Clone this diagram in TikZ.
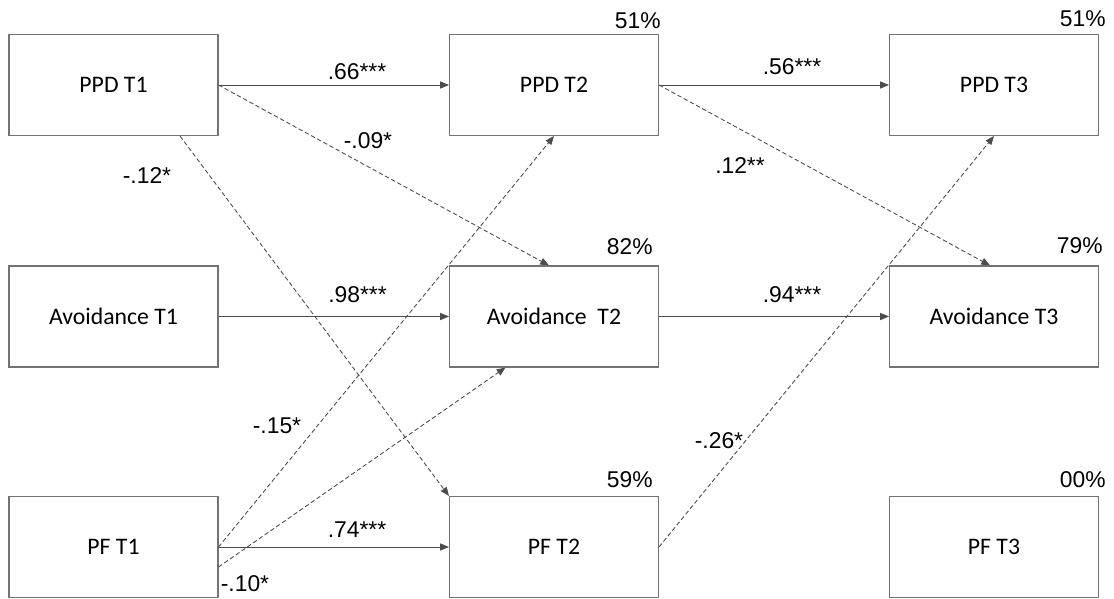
\documentclass[tikz,border=0pt]{standalone}
\usepackage{fontspec}
\setmainfont{Liberation Sans}
\newfontfamily\boxfont{Carlito}
\usetikzlibrary{arrows.meta}

\begin{document}
\begin{tikzpicture}[x=0.02cm,y=-0.02cm,
	var/.style={draw=black!55,line width=0.6pt,minimum width=4.18cm,minimum height=2.02cm,inner sep=0pt,font=\boxfont\fontsize{13.5}{16}\selectfont},
	effect/.style={draw=black!70,line width=0.5pt,-{Triangle[length=5pt,width=4pt]}},
	crosseffect/.style={effect,dash pattern=on 2.5pt off 1.5pt},
	coef/.style={anchor=base,inner sep=0pt,font=\fontsize{13}{15}\selectfont},
	rsq/.style={anchor=base east,inner sep=0pt,font=\fontsize{13}{15}\selectfont}]
				\useasboundingbox (0,0) rectangle (1114,598);
				\node[var] (ppd1) at (113.5,85) {PPD T1};
				\node[var] (ppd2) at (554,85) {PPD T2};
				\node[var] (ppd3) at (994,85) {PPD T3};
				\node[var] (av1) at (113.5,316.5) {Avoidance T1};
				\node[var] (av2) at (554,316.5) {Avoidance\ \ T2};
				\node[var] (av3) at (994,316.5) {Avoidance T3};
				\node[var] (pf1) at (113.5,547) {PF T1};
				\node[var] (pf2) at (554,547) {PF T2};
				\node[var] (pf3) at (994,547) {PF T3};
				% explained variance
				\node[rsq] (r1) at (661,29) {51\%};
				\node[rsq] (r2) at (1106,27) {51\%};
				\node[rsq] (r3) at (653,254) {82\%};
				\node[rsq] (r4) at (1103,253) {79\%};
				\node[rsq] (r5) at (653,487) {59\%};
				\node[rsq] (r6) at (1106,487) {00\%};
				% stability paths
				\draw[effect] (ppd1) -- (ppd2);
				\draw[effect] (ppd2) -- (ppd3);
				\draw[effect] (av1) -- (av2);
				\draw[effect] (av2) -- (av3);
				\draw[effect] (pf1) -- (pf2);
				% cross-lagged paths
				\draw[crosseffect] (ppd1.east) -- ([xshift=-0.1cm]av2.north);
				\draw[crosseffect] ([xshift=1.33cm]ppd1.south) -- (pf2.north west);
				\draw[crosseffect] (pf1.east) -- (ppd2.south);
				\draw[crosseffect] ([yshift=-0.4cm]pf1.east) -- ([xshift=-0.97cm]av2.south);
				\draw[crosseffect] (ppd2.east) -- ([xshift=-0.08cm]av3.north);
				\draw[crosseffect] (pf2.east) -- (ppd3.south);
				% coefficients
				\node[coef] (c1) at (357,80) {.66***};
				\node[coef] (c2) at (368,148) {-.09*};
				\node[coef] (c3) at (147,183) {-.12*};
				\node[coef] (c4) at (357.5,302) {.98***};
				\node[coef] (c5) at (357,537) {.74***};
				\node[coef] (c6) at (277,433) {-.15*};
				\node[coef] (c7) at (245,591) {-.10*};
				\node[coef] (c8) at (792,74) {.56***};
				\node[coef] (c9) at (740,173) {.12**};
				\node[coef] (c10) at (792,302) {.94***};
				\node[coef] (c11) at (719,448) {-.26*};
\end{tikzpicture}
\end{document}
